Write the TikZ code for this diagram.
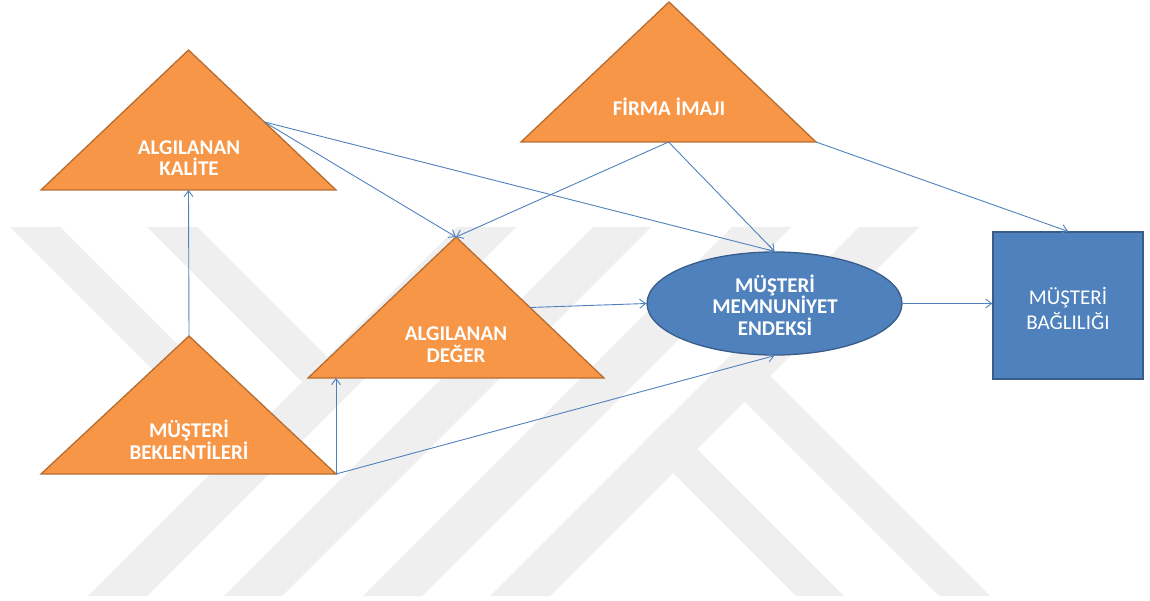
\documentclass[tikz,border=0pt]{standalone}
\usepackage{fontspec}
\setmainfont{Carlito}
\usetikzlibrary{shapes.geometric,arrows.meta,calc}
\definecolor{accorange}{RGB}{247,150,70}
\definecolor{orangeline}{RGB}{182,109,49}
\definecolor{accblue}{RGB}{79,129,189}
\definecolor{blueline}{RGB}{56,93,138}
\definecolor{linkblue}{RGB}{79,129,189}
\definecolor{markgray}{RGB}{239,239,239}

\begin{document}
\begin{tikzpicture}[x=1pt,y=-1pt,
  tri/.style={fill=accorange,draw=orangeline,line width=1.3pt,line join=miter},
  blueshape/.style={fill=accblue,draw=blueline,line width=1.3pt},
  boldlabel/.style={text=white,font=\fontsize{21}{21.5}\selectfont\bfseries,align=center,inner sep=0pt},
  plainlabel/.style={text=white,font=\fontsize{21}{25}\selectfont,align=center,inner sep=0pt},
  link/.style={draw=linkblue,line width=0.9pt,-{Straight Barb[length=6pt,width=9pt]}},
  band/.style={fill=markgray,draw=none}]

\useasboundingbox (0,0) rectangle (1150,601);

% pale striped emblem in the background
\path[band] (10,227) -- (60,227) -- (258.5,425.5) -- (233.5,450.5) -- cycle;
\path[band] (147,227) -- (197,227) -- (327,357) -- (302,382) -- cycle;
\path[band] (88,596) -- (147,596) -- (516,227) -- (457,227) -- cycle;
\path[band] (224,596) -- (282,596) -- (651,227) -- (593,227) -- cycle;
\path[band] (363,596) -- (422,596) -- (791,227) -- (732,227) -- cycle;
\path[band] (490,596) -- (550,596) -- (919,227) -- (859,227) -- cycle;
\path[band] (796,596) -- (844,596) -- (667,419) -- (643,443) -- cycle;
\path[band] (939,596) -- (990,596) -- (740,346) -- (714.5,371.5) -- cycle;

% corner points of the four triangles
\coordinate (kal-apex) at (188.5,50);
\coordinate (kal-left) at (41,190);
\coordinate (kal-right) at (336,190);
\coordinate (fir-apex) at (669,2);
\coordinate (fir-left) at (521,142);
\coordinate (fir-right) at (816,142);
\coordinate (deg-apex) at (456,237);
\coordinate (deg-left) at (308,378);
\coordinate (deg-right) at (604,378);
\coordinate (bek-apex) at (189,336);
\coordinate (bek-left) at (41,474);
\coordinate (bek-right) at (336,474);

% points on the sides where connectors leave
\coordinate (kal-base) at ($(kal-left)!0.5!(kal-right)$);
\coordinate (kal-side) at ($(kal-apex)!0.514!(kal-right)$);
\coordinate (fir-base) at ($(fir-left)!0.5!(fir-right)$);
\coordinate (deg-side) at ($(deg-apex)!0.5!(deg-right)$);

% triangles
\path[tri] (kal-apex) -- (kal-left) -- (kal-right) -- cycle;
\path[tri] (fir-apex) -- (fir-left) -- (fir-right) -- cycle;
\path[tri] (deg-apex) -- (deg-left) -- (deg-right) -- cycle;
\path[tri] (bek-apex) -- (bek-left) -- (bek-right) -- cycle;

% ellipse and box
\node[ellipse,blueshape,minimum width=255pt,minimum height=103pt,inner sep=0pt] (mme) at (774.5,303.5) {};
\node[rectangle,blueshape,minimum width=150pt,minimum height=147pt,inner sep=0pt] (bag) at (1068,305.5) {};

% labels
\node[boldlabel] (kal-text) at (189,158) {ALGILANAN\\KALİTE};
\node[boldlabel] (fir-text) at (669,106.5) {FİRMA İMAJI};
\node[boldlabel] (deg-text) at (456,344.5) {ALGILANAN\\DEĞER};
\node[boldlabel] (bek-text) at (189,439.5) {MÜŞTERİ\\BEKLENTİLERİ};
\node[boldlabel] (mme-text) at (775,305) {MÜŞTERİ\\MEMNUNİYET\\ENDEKSİ};
\node[plainlabel] (bag-text) at (1068,308.5) {MÜŞTERİ\\BAĞLILIĞI};

% connectors
\draw[link] (bek-apex) -- (kal-base);
\draw[link] (bek-right) -- (bek-right |- deg-left);
\draw[link] (bek-right) -- (mme.south);
\draw[link] (kal-side) -- (deg-apex);
\draw[link] (kal-side) -- (mme.north);
\draw[link] (fir-base) -- (deg-apex);
\draw[link] (fir-base) -- (mme.north);
\draw[link] (fir-right) -- (bag.north);
\draw[link] (deg-side) -- (mme.west);
\draw[link] (mme.east) -- (mme.east -| bag.west);

\end{tikzpicture}
\end{document}
